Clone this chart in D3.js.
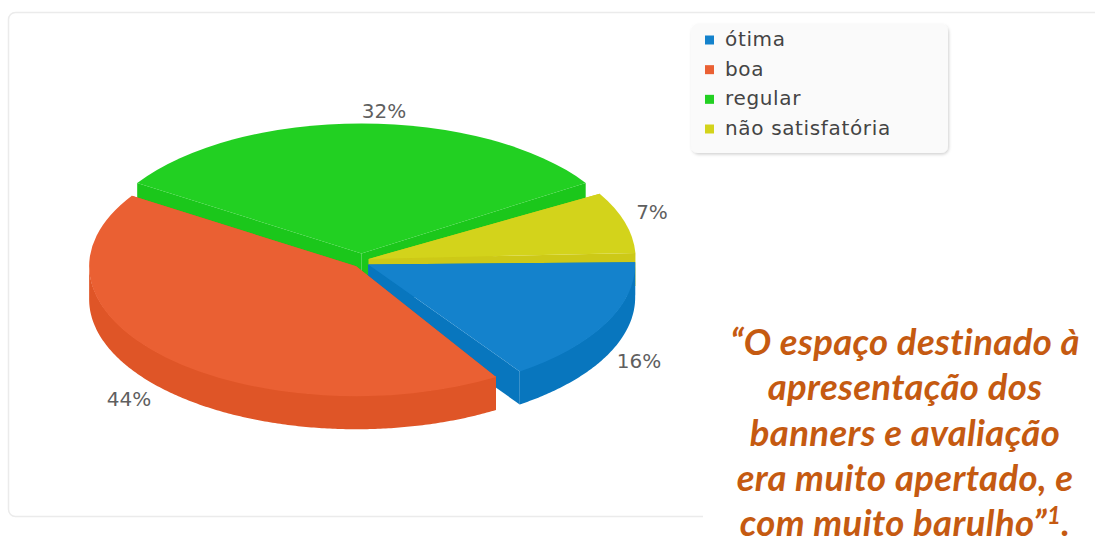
<!DOCTYPE html>
<html>
<head>
<meta charset="utf-8">
<script src="https://cdn.jsdelivr.net/npm/d3@7"></script>
<style>
  html, body { margin: 0; padding: 0; background: #fff; }
  svg { display: block; }
</style>
</head>
<body>
<div id="chart"></div>
<script>
// categories and the shares (the printed labels are rounded differently)
const categories = ['ótima', 'boa', 'regular', 'não satisfatória']
const shares = [16.0, 43.8, 32.4, 7.8]
const percentLabels = ['16%', '44%', '32%', '7%']
const topColors = ['#1482cc', '#ea6033', '#22d022', '#d3d31b']
const sideColors = ['#0876be', '#df5527', '#1bc71b', '#cdc917']
const quoteLines = ['“O espaço destinado à', 'apresentação dos', 'banners e avaliação', 'era muito apertado, e', 'com muito barulho”']

const width = 1095
const height = 541

// ellipse of the pie
const cx = 361.5
const cy = 261
const rx = 267
const ry = 130
const depth = 33
const explode = 7.5
const tilt = ry / rx

const svg = d3.select('#chart').append('svg').attr('width', width).attr('height', height)

const defs = svg.append('defs')
const shadow = defs.append('filter').attr('id', 'shadow')
  .attr('x', '-5%').attr('y', '-10%').attr('width', '110%').attr('height', '120%')
shadow.append('feDropShadow').attr('dx', 1).attr('dy', 1.5).attr('stdDeviation', 1.5)
  .attr('flood-color', '#000').attr('flood-opacity', 0.18)

// chart card
svg.append('rect').attr('x', 8.5).attr('y', 12.5).attr('width', 1120).attr('height', 504)
  .attr('rx', 7).attr('fill', '#fff').attr('stroke', '#ebebeb').attr('stroke-width', 1.5)

// angular gap left after each slice, the exploded slices do not close up exactly
const rad = Math.PI / 180
const gapAfter = [3, 0, 2.8, 1.6].map(g => g * rad)
const startAngle = 89 * rad
const pie = d3.pie().sort(null).startAngle(startAngle).endAngle(startAngle + 2 * Math.PI - d3.sum(gapAfter))
let gapSoFar = 0
const arcs = pie(shares).map((d, i) => {
  const shifted = { ...d, i, startAngle: d.startAngle + gapSoFar, endAngle: d.endAngle + gapSoFar }
  gapSoFar += gapAfter[i]
  return shifted
})

// d3 angles run clockwise from 12 o'clock
const px = a => rx * Math.sin(a)
const py = a => -ry * Math.cos(a)
const arc = d3.arc().innerRadius(0).outerRadius(rx)

const line = d3.line()

function offset (d) {
  const mid = (d.startAngle + d.endAngle) / 2
  return [cx + explode * Math.sin(mid), cy - explode * Math.cos(mid)]
}

function radialWall (a) {
  return line([[0, 0], [px(a), py(a)], [px(a), py(a) + depth], [0, depth]]) + 'Z'
}

// outer rim, only the part that faces the viewer
// the upper edge sits 1px under the top face so no light seam shows
function rimWall (d) {
  const from = Math.max(d.startAngle, Math.PI / 2)
  const to = Math.min(d.endAngle, 3 * Math.PI / 2)
  if (to <= from) return null
  const angles = d3.range(from, to, 0.01).concat([to])
  const upper = angles.map(a => [px(a), py(a) - 1])
  const lower = angles.slice().reverse().map(a => [px(a), py(a) + depth])
  return line(upper.concat(lower)) + 'Z'
}

// painter's order: back slices first
const drawOrder = [2, 3, 0, 1]
const slices = svg.append('g').attr('class', 'slices')
  .selectAll('g').data(drawOrder.map(i => arcs[i])).join('g')
  .attr('transform', d => `translate(${offset(d)})`)

slices.append('path').attr('d', d => radialWall(d.startAngle)).attr('fill', d => sideColors[d.i])
slices.append('path').attr('d', d => radialWall(d.endAngle)).attr('fill', d => sideColors[d.i])
slices.filter(d => rimWall(d) !== null).append('path').attr('d', rimWall).attr('fill', d => sideColors[d.i])
slices.append('path').attr('d', arc).attr('transform', `scale(1 ${tilt})`).attr('fill', d => topColors[d.i])

// percent labels
const labelX = [639, 129, 384, 652]
const labelY = [368, 406, 118, 219]
svg.append('g').selectAll('text').data(percentLabels).join('text')
  .attr('x', (d, i) => labelX[i]).attr('y', (d, i) => labelY[i])
  .attr('text-anchor', 'middle')
  .attr('font-family', 'DejaVu Sans').attr('font-size', 20)
  .attr('fill', '#5f5f5f').text(d => d)

// legend
const legend = svg.append('g').attr('class', 'legend')
legend.append('rect').attr('x', 691).attr('y', 24).attr('width', 257).attr('height', 129)
  .attr('rx', 7).attr('fill', '#fafafa').attr('filter', 'url(#shadow)')

const rowY = d3.scalePoint().domain(categories).range([40, 129])
const rows = legend.selectAll('.row').data(categories).join('g').attr('class', 'row')
  .attr('transform', d => `translate(705 ${rowY(d)})`)
rows.append('rect').attr('y', -4.5).attr('width', 9).attr('height', 9)
  .attr('fill', (d, i) => topColors[i])
rows.append('text').attr('x', 20).attr('y', 6)
  .attr('font-family', 'DejaVu Sans').attr('font-size', 20)
  .attr('letter-spacing', 0.65)
  .attr('fill', '#444').text(d => d)

// quote on top of the card
svg.append('rect').attr('x', 703).attr('y', 320).attr('width', 392).attr('height', 221).attr('fill', '#fff')
const quoteY = d3.scalePoint().domain(quoteLines).range([355, 536])
const quote = svg.append('g').selectAll('text').data(quoteLines).join('text')
  .attr('x', 905).attr('y', d => quoteY(d))
  .attr('text-anchor', 'middle')
  .attr('font-family', 'Lato').attr('font-weight', 700).attr('font-style', 'italic')
  .attr('font-size', 36.5).attr('letter-spacing', 0.35)
  .style('font-variant-ligatures', 'none')
  .attr('fill', '#c55a11')
  .text(d => d)
quote.filter((d, i) => i === quoteLines.length - 1).call(t => {
  t.append('tspan').attr('font-size', 24).attr('dy', -12).text('1')
  t.append('tspan').attr('dy', 12).text('.')
})
</script>
</body>
</html>
